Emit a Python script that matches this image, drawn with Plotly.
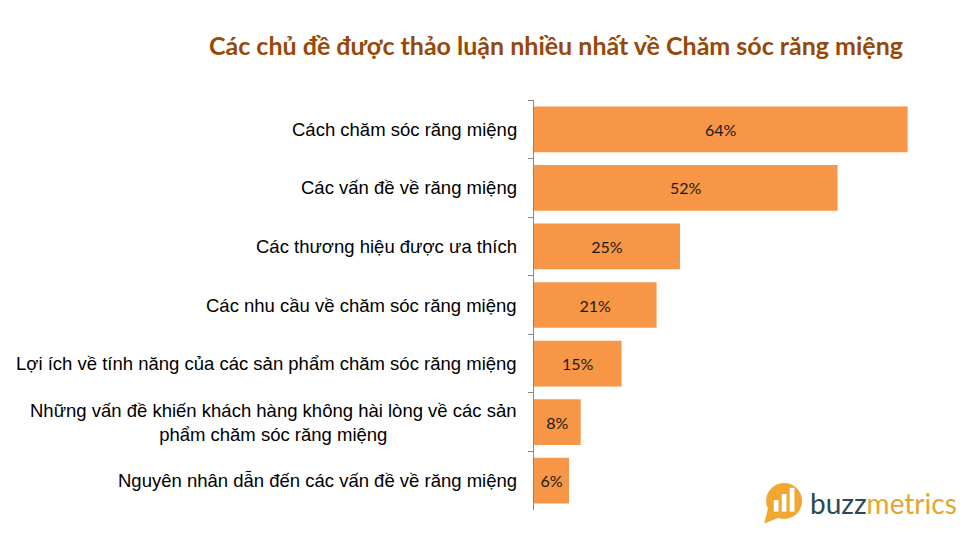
import plotly.graph_objects as go

categories = [
    "Cách chăm sóc răng miệng",
    "Các vấn đề về răng miệng",
    "Các thương hiệu được ưa thích",
    "Các nhu cầu về chăm sóc răng miệng",
    "Lợi ích về tính năng của các sản phẩm chăm sóc răng miệng",
    "Những vấn đề khiến khách hàng không hài lòng về các sản<br>phẩm chăm sóc răng miệng",
    "Nguyên nhân dẫn đến các vấn đề về răng miệng",
]
values = [64, 52, 25, 21, 15, 8, 6]
title_text = "Các chủ đề được thảo luận nhiều nhất về Chăm sóc răng miệng"

fig = go.Figure(go.Bar(
    x=values, y=categories, orientation="h",
    marker=dict(color="#F79646", line=dict(width=0)),
    text=[f"{v}%" for v in values],
    textposition="inside", insidetextanchor="middle",
    textfont=dict(family="Lato", size=16, color="#1a1a1a"),
    width=0.78,
))

annotations = []
for c in categories:
    annotations.append(dict(
        xref="paper", yref="y", x=0, y=c, xanchor="right", yanchor="middle",
        xshift=-15, text=c, showarrow=False, align="center",
        font=dict(family="Liberation Sans, Arial", size=18.5, color="#000000"),
    ))

annotations.append(dict(
    xref="paper", yref="paper", x=0.934, y=1.0, xanchor="right", yanchor="middle",
    yshift=55, text=f"<b>{title_text}</b>", showarrow=False,
    font=dict(family="Lato", size=25, color="#984807"),
))
annotations.append(dict(
    xref="paper", yref="paper", x=1.07, y=0.018, xanchor="right", yanchor="middle",
    text="<span style='color:#2E4756'>buzz</span><span style='color:#E3A72F'>metrics</span>",
    showarrow=False, font=dict(family="Lato", size=28),
))

# logo icon
cx, cy, rx, ry = 0.63, 0.022, 0.0453, 0.0439
shapes = [
    dict(type="circle", xref="paper", yref="paper",
         x0=cx - rx, x1=cx + rx, y0=cy - ry, y1=cy + ry,
         fillcolor="#F0A830", line=dict(width=0)),
    dict(type="path", xref="paper", yref="paper",
         path=f"M {cx-0.04} {cy-0.015} L {cx-0.05} {cy-0.055} L {cx-0.012} {cy-0.04} Z",
         fillcolor="#F0A830", line=dict(width=0)),
]
for dx, h in [(-0.02, 0.028), (0.0, 0.043), (0.02, 0.058)]:
    shapes.append(dict(type="rect", xref="paper", yref="paper",
                       x0=cx + dx - 0.006, x1=cx + dx + 0.006,
                       y0=cy - 0.026, y1=cy - 0.026 + h,
                       fillcolor="white", line=dict(width=0)))

fig.update_layout(
    width=976, height=539,
    margin=dict(l=534, r=45, t=100, b=29),
    paper_bgcolor="white", plot_bgcolor="white",
    showlegend=False,
    annotations=annotations,
    shapes=shapes,
)
fig.update_xaxes(range=[0, 68], visible=False)
fig.update_yaxes(
    autorange="reversed", showticklabels=False,
    showline=True, linecolor="#888888", linewidth=1,
    ticks="outside", ticklen=5, tickcolor="#888888", tickson="boundaries",
    showgrid=False, zeroline=False,
)

fig.write_html("out.html")
